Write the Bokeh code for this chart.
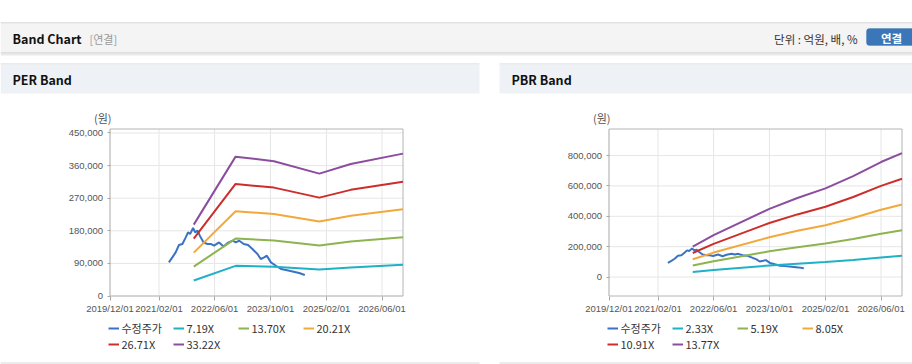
import pandas as pd
from bokeh.plotting import figure
from bokeh.models import (Range1d, LinearAxis, DatetimeAxis, FixedTicker, NumeralTickFormatter,
                          DatetimeTickFormatter, Label, Legend, LegendItem, BoxAnnotation)
from bokeh.embed import file_html
from bokeh.resources import INLINE

# ---------------- data ----------------
x_tick_dates = ["2019-12-01", "2021-02-01", "2022-06-01", "2023-10-01", "2025-02-01", "2026-06-01"]
x_start, x_end = "2019-12-01", "2026-12-01"

stock_label = "수정주가"
stock_dates = ["2021-04-28", "2021-05-28", "2021-06-26", "2021-07-25", "2021-08-24", "2021-09-22",
               "2021-10-12", "2021-10-30", "2021-11-25", "2021-12-13", "2022-01-03", "2022-01-23",
               "2022-02-25", "2022-03-30", "2022-04-28", "2022-05-27", "2022-07-10", "2022-08-18",
               "2022-09-22", "2022-11-05", "2022-12-03", "2023-01-02", "2023-02-10", "2023-03-20",
               "2023-04-27", "2023-06-10", "2023-07-08", "2023-08-07", "2023-08-31", "2023-10-05",
               "2023-11-18", "2024-01-01", "2024-02-14", "2024-04-11", "2024-06-08", "2024-07-27"]
stock_price = [92800, 106600, 120400, 140800, 143600, 161800,
               175600, 171200, 187700, 175600, 180300, 166500,
               148000, 143600, 143600, 138900, 148000, 136900,
               146300, 152700, 148000, 152700, 143600, 140800,
               129800, 115900, 102100, 106600, 111300, 92800,
               83600, 74500, 71800, 67900, 63500, 58000]

per_dates = ["2021-12-01", "2022-12-01", "2023-11-01", "2024-12-01", "2025-09-01", "2026-12-01"]
per_labels = ["7.19X", "13.70X", "20.21X", "26.71X", "33.22X"]
per_719 = [42600, 83300, 80500, 73100, 78900, 86000]
per_1370 = [81200, 158600, 153400, 139300, 150300, 162300]
per_2021 = [119800, 234000, 226400, 205500, 221700, 239500]
per_2671 = [158400, 309300, 299200, 271600, 293000, 315500]
per_3322 = [197000, 384700, 372100, 337800, 364400, 393000]
per_yticks = [0, 90000, 180000, 270000, 360000, 450000]
per_ylim = (0, 461000)

pbr_dates = ["2021-12-01", "2022-06-01", "2023-10-01", "2024-06-01", "2025-02-01",
             "2025-10-01", "2026-06-01", "2026-12-01"]
pbr_labels = ["2.33X", "5.19X", "8.05X", "10.91X", "13.77X"]
pbr_233 = [33800, 46600, 76000, 88100, 98800, 112500, 128200, 140000]
pbr_519 = [75300, 103800, 169200, 196200, 220100, 250700, 285500, 307800]
pbr_805 = [116700, 161000, 262400, 304300, 341300, 388800, 442800, 477400]
pbr_1091 = [158200, 218200, 355700, 412400, 462600, 527000, 600100, 647000]
pbr_1377 = [199700, 275400, 448900, 520500, 583800, 665100, 757400, 816600]
pbr_yticks = [0, 200000, 400000, 600000, 800000]
pbr_ylim = (-125000, 975000)

stock_color = "#3a73c3"
band_colors = ["#1fb1c6", "#8db44f", "#f3a83b", "#cc2e2b", "#8c4d9e"]

# ---------------- canvas ----------------
W, H = 912, 364
KR = "Noto Sans CJK KR"
NUM = "Liberation Sans"

p = figure(width=W, height=H, x_range=Range1d(0, W), y_range=Range1d(H, 0),
           x_axis_type=None, y_axis_type=None, toolbar_location=None, title=None,
           output_backend="svg", min_border=0, outline_line_color=None,
           background_fill_color="white", border_fill_color="white")


def box(l, r, t, b, c):
    p.add_layout(BoxAnnotation(left=l, right=r, top=t, bottom=b, fill_color=c, fill_alpha=1,
                               line_color=None, level="underlay"))


def label(x, y, text, size, color, bold=False, font=KR, align="left"):
    p.add_layout(Label(x=x, y=y, text=text, text_font=font, text_font_size=size,
                       text_color=color, text_font_style="bold" if bold else "normal",
                       text_baseline="middle", text_align=align))


# page header
box(0, W, 22, 23, "#c6c6c6")
box(0, W, 23, 52, "#f4f4f4")
box(0, W, 52, 53, "#c4c4c4")
box(0, W, 53, 55, "#e9e9e9")
label(12, 38, "Band Chart", "12.5px", "#111111", bold=True)
label(89, 38, "[연결]", "11px", "#999999")
label(857, 38, "단위 : 억원, 배, %", "11.5px", "#333333", align="right")
p.add_layout(BoxAnnotation(left=866, right=918, top=28, bottom=45, fill_color="#3b77b8",
                           fill_alpha=1, line_color="#2f69a6", border_radius=3))
label(891, 37, "연결", "11.5px", "white", bold=True, align="center")

# panels
for (pl, pr, title) in [(0, 479, "PER Band"), (499, W, "PBR Band")]:
    box(pl, pr, 63, 64, "#d6d6d6")
    box(pl, pr, 64, 93, "#eef1f6")
    box(pl, pr, 362, 363, "#d9d9d9")
    label(pl + 12, 79, title, "12.5px", "#111111", bold=True)

T, B = 128.5, 295.5
x0ms, x1ms = pd.Timestamp(x_start).value / 1e6, pd.Timestamp(x_end).value / 1e6
xt = pd.to_datetime(x_tick_dates)
xt_ms = [pd.Timestamp(d).value / 1e6 for d in x_tick_dates]


def draw_chart(name, L, R, ylim, yticks, dates, bands, band_labels):
    y0, y1 = ylim
    sx = (R - L) / (x1ms - x0ms)
    sy = (B - T) / (y1 - y0)
    xn, yn = name + "_x", name + "_y"
    p.extra_x_ranges[xn] = Range1d(x0ms - L / sx, x1ms + (W - R) / sx)
    p.extra_y_ranges[yn] = Range1d(y0 - (H - B) / sy, y1 + T / sy)
    kw = dict(x_range_name=xn, y_range_name=yn)
    xs0, xs1 = pd.Timestamp(x_start), pd.Timestamp(x_end)

    # grid
    p.segment(x0=[xs0] * len(yticks), x1=[xs1] * len(yticks), y0=yticks, y1=yticks,
              line_color="#e6e6e6", line_width=1, **kw)
    p.segment(x0=xt, x1=xt, y0=[y0] * len(xt), y1=[y1] * len(xt),
              line_color="#e6e6e6", line_width=1, **kw)
    # frame
    p.quad(left=[xs0], right=[xs1], bottom=[y0], top=[y1], fill_color=None,
           line_color="#b4b4b4", line_width=1, **kw)

    items = []
    r = p.line(pd.to_datetime(stock_dates), stock_price, line_color=stock_color, line_width=2, **kw)
    items.append(LegendItem(label=stock_label, renderers=[r]))
    bd = pd.to_datetime(dates)
    for vals, lab, col in zip(bands, band_labels, band_colors):
        r = p.line(bd, vals, line_color=col, line_width=2, **kw)
        items.append(LegendItem(label=lab, renderers=[r]))

    yax = LinearAxis(x_range_name=xn, y_range_name=yn, fixed_location=x0ms,
                     ticker=FixedTicker(ticks=yticks), formatter=NumeralTickFormatter(format="0,0"))
    yax.axis_line_color = None
    yax.major_tick_line_color = "#a8a8a8"
    yax.major_tick_in = 0
    yax.major_tick_out = 3
    yax.minor_tick_line_color = None
    yax.major_label_text_font = NUM
    yax.major_label_text_font_size = "9.5px"
    yax.major_label_text_color = "#555555"
    yax.major_label_standoff = 4
    p.add_layout(yax, "left")

    xax = DatetimeAxis(x_range_name=xn, y_range_name=yn, fixed_location=y0,
                       ticker=FixedTicker(ticks=xt_ms),
                       formatter=DatetimeTickFormatter(
                           milliseconds="%Y/%m/%d", seconds="%Y/%m/%d", minsec="%Y/%m/%d",
                           minutes="%Y/%m/%d", hourmin="%Y/%m/%d", hours="%Y/%m/%d",
                           days="%Y/%m/%d", months="%Y/%m/%d", years="%Y/%m/%d"))
    xax.axis_line_color = None
    xax.major_tick_line_color = "#a8a8a8"
    xax.major_tick_in = 0
    xax.major_tick_out = 4
    xax.minor_tick_line_color = None
    xax.major_label_text_font = NUM
    xax.major_label_text_font_size = "9.5px"
    xax.major_label_text_color = "#555555"
    xax.major_label_standoff = 3
    p.add_layout(xax, "below")

    label(L - 16, 117.5, "(원)", "11px", "#555555")

    leg = Legend(items=items, location=(L - 2, 12), orientation="horizontal", ncols=4,
                 padding=0, spacing=0, margin=0, glyph_width=11, glyph_height=14,
                 label_height=14, label_width=51, label_standoff=3,
                 label_text_font=KR, label_text_font_size="11px", label_text_color="#333333",
                 border_line_color=None, background_fill_alpha=0)
    p.add_layout(leg)


draw_chart("per", 109.5, 402.5, per_ylim, per_yticks, per_dates,
           [per_719, per_1370, per_2021, per_2671, per_3322], per_labels)
draw_chart("pbr", 608.5, 901.5, pbr_ylim, pbr_yticks, pbr_dates,
           [pbr_233, pbr_519, pbr_805, pbr_1091, pbr_1377], pbr_labels)

open("out.html", "w").write(file_html(p, INLINE))
